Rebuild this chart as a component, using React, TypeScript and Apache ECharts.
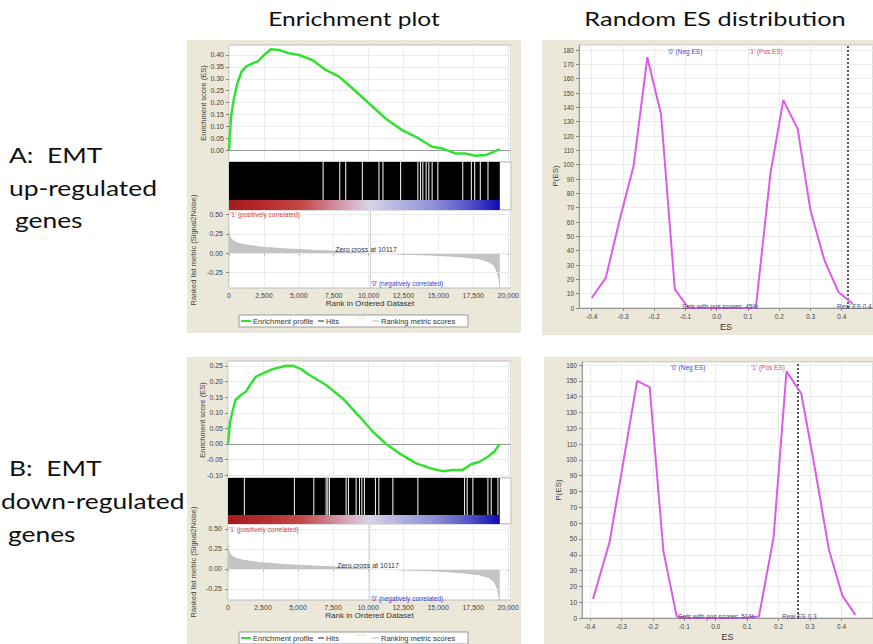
import React, { useEffect, useRef } from 'react';
import * as echarts from 'echarts';

// ---------- data ----------
const RANK_MAX = 20200;
const N_GENES = 19400;
const ZERO_CROSS = 10117;
const RANK_TICK_STEP = 2500;

// Panel A: EMT up-regulated genes — running enrichment score [rank, ES]
const UP_ES: [number, number][] = [
  [0, 0], [143, 0.14], [357, 0.218], [600, 0.28], [900, 0.33], [1214, 0.351], [1690, 0.365],
  [2048, 0.372], [2524, 0.4], [3000, 0.424], [3595, 0.421], [4310, 0.407], [5024, 0.4],
  [5976, 0.379], [6929, 0.337], [7881, 0.309], [8833, 0.26], [10024, 0.197], [11214, 0.133],
  [12405, 0.084], [13595, 0.049], [14548, 0.014], [15262, 0.007], [16214, -0.014],
  [16929, -0.014], [17643, -0.024], [18357, -0.021], [18833, -0.011], [19400, 0.004],
];
// ranks in the hits band where no hit is present (white gaps)
const UP_GAPS = [6738, 7929, 8357, 9548, 10738, 11024, 12286, 13524, 13714, 13881, 14119,
  14310, 14548, 14952, 16738, 17357, 17595, 18000, 18548];
const UP_ES_TICKS = [0, 0.05, 0.1, 0.15, 0.2, 0.25, 0.3, 0.35, 0.4];

// Panel B: EMT down-regulated genes
const DOWN_ES: [number, number][] = [
  [0, 0], [150, 0.072], [524, 0.141], [929, 0.157], [1286, 0.168], [1643, 0.194], [2000, 0.216],
  [2476, 0.226], [3190, 0.24], [4143, 0.251], [4619, 0.251], [5214, 0.24], [5810, 0.221],
  [7000, 0.189], [8190, 0.146], [9381, 0.088], [10333, 0.04], [11286, 0], [12238, -0.03],
  [13429, -0.062], [14619, -0.08], [15333, -0.087], [16048, -0.083], [16762, -0.083],
  [17357, -0.065], [17952, -0.057], [18548, -0.041], [19000, -0.025], [19400, 0],
];
const DOWN_GAPS = [1167, 4738, 6119, 7000, 7119, 7238, 8429, 8595, 9143, 9381, 9548, 9738,
  10524, 10762, 11762, 13548, 16881, 17071, 17476, 18548, 18786, 19262];
const DOWN_ES_TICKS = [-0.1, -0.05, 0, 0.05, 0.1, 0.15, 0.2, 0.25];

// Ranked list metric (Signal2Noise), same ordered dataset for both panels
const METRIC: [number, number][] = [
  [0, 0.29], [100, 0.2], [300, 0.16], [600, 0.13], [1200, 0.105], [2400, 0.077], [4000, 0.056],
  [6400, 0.034], [8800, 0.018], [10117, 0], [12400, -0.013], [14800, -0.028], [16700, -0.05],
  [17900, -0.072], [18600, -0.11], [19000, -0.16], [19200, -0.24], [19350, -0.35], [19400, -0.44],
];
const METRIC_TICKS = [-0.25, 0, 0.25, 0.5];

// Random ES distributions [ES, P(ES)]
const UP_DIST: [number, number][] = [
  [-0.4, 7], [-0.355, 21], [-0.31, 62], [-0.266, 99], [-0.222, 175], [-0.178, 135], [-0.134, 13],
  [-0.09, 0], [-0.045, 0], [0, 0], [0.045, 0], [0.09, 0], [0.125, 0], [0.172, 94], [0.213, 145],
  [0.259, 125], [0.3, 68], [0.345, 33], [0.39, 11], [0.435, 3],
];
const UP_REAL_ES = 0.422;
const DOWN_DIST: [number, number][] = [
  [-0.39, 12], [-0.3375, 48], [-0.295, 97], [-0.25, 150], [-0.21, 146], [-0.166, 42], [-0.124, 1],
  [-0.08, 0], [-0.04, 0], [0, 0], [0.04, 0], [0.08, 0], [0.1375, 1], [0.184, 51], [0.225, 156],
  [0.272, 142], [0.315, 95], [0.36, 43], [0.403, 14], [0.444, 2],
];
const DOWN_REAL_ES = 0.256;
const DIST_X_TICKS = [-0.4, -0.3, -0.2, -0.1, 0, 0.1, 0.2, 0.3, 0.4];

// ---------- styles ----------
const SMALL = "'Liberation Sans', Arial, sans-serif";
const BIG = 'Lato, sans-serif';
const GREEN = '#33e133';
const MAGENTA = '#dc5ce8';
const GRIDLINE = '#ebebeb';
const HEAT_STOPS = [
  { offset: 0, color: '#a41a1a' }, { offset: 0.12, color: '#b52a2a' }, { offset: 0.27, color: '#c54848' },
  { offset: 0.38, color: '#cf8595' }, { offset: 0.46, color: '#d8b2c8' }, { offset: 0.52, color: '#d8d4e8' },
  { offset: 0.62, color: '#b6b6e0' }, { offset: 0.76, color: '#8e8ed6' }, { offset: 0.89, color: '#5252c8' },
  { offset: 0.97, color: '#2020b8' }, { offset: 1, color: '#0808b0' },
];

type PanelLayout = {
  left: number; width: number;
  esTop: number; esH: number; bandH: number; heatFrac: number; metTop: number; metH: number;
  esMin: number; esMax: number; esTicks: number[]; metMin: number; metMax: number;
};

const A_LAYOUT: PanelLayout = {
  left: 229, width: 282, esTop: 45, esH: 117, bandH: 48, heatFrac: 10 / 48, metTop: 210, metH: 78,
  esMin: -0.05, esMax: 0.442, esTicks: UP_ES_TICKS, metMin: -0.45, metMax: 0.557,
};
const B_LAYOUT: PanelLayout = {
  left: 228, width: 283, esTop: 361, esH: 117, bandH: 46, heatFrac: 9 / 46, metTop: 524, metH: 76,
  esMin: -0.109, esMax: 0.266, esTicks: DOWN_ES_TICKS, metMin: -0.39, metMax: 0.5625,
};

const tickLabel = { fontSize: 7, color: '#444', fontFamily: SMALL };
const gridLineItem = (key: 'xAxis' | 'yAxis', v: number) => ({
  [key]: v, lineStyle: { color: GRIDLINE, type: 'solid', width: 1 },
});

function gseaPanel(L: PanelLayout, es: [number, number][], gaps: number[], base: number) {
  const grids = [
    { left: L.left, top: L.esTop, width: L.width, height: L.esH, show: true, backgroundColor: '#fff', borderColor: '#bbb', borderWidth: 1 },
    { left: L.left, top: L.esTop + L.esH, width: L.width, height: L.bandH, show: true, backgroundColor: '#fff', borderColor: '#bbb', borderWidth: 1 },
    { left: L.left, top: L.metTop, width: L.width, height: L.metH, show: true, backgroundColor: '#fff', borderColor: '#bbb', borderWidth: 1 },
  ];
  const rankAxisHidden = (g: number) => ({
    gridIndex: g, type: 'value', min: 0, max: RANK_MAX, interval: RANK_TICK_STEP,
    axisLabel: { show: false }, axisTick: { show: false }, axisLine: { show: false },
    splitLine: { show: true, lineStyle: { color: GRIDLINE, width: 1 } },
  });
  const xAxes = [
    rankAxisHidden(base),
    { ...rankAxisHidden(base + 1), splitLine: { show: false } },
    {
      gridIndex: base + 2, type: 'value', min: 0, max: RANK_MAX, interval: RANK_TICK_STEP,
      axisLine: { show: false }, axisTick: { show: true, length: 2, lineStyle: { color: '#888' } },
      axisLabel: { ...tickLabel, margin: 4, showMaxLabel: false, formatter: (v: number) => v.toLocaleString('en-US') },
      splitLine: { show: true, lineStyle: { color: GRIDLINE } },
      name: 'Rank in Ordered Dataset', nameLocation: 'middle', nameGap: 11,
      nameTextStyle: { fontSize: 8, color: '#333', fontFamily: SMALL },
    },
  ];
  const yAxes = [
    {
      gridIndex: base, type: 'value', min: L.esMin, max: L.esMax,
      axisLine: { show: false, onZero: false },
      axisTick: { show: true, length: 3, customValues: L.esTicks, lineStyle: { color: '#888' } },
      axisLabel: { ...tickLabel, margin: 5, customValues: L.esTicks, formatter: (v: number) => v.toFixed(2) },
      splitLine: { show: false },
    },
    { gridIndex: base + 1, type: 'value', min: 0, max: 1, show: false },
    {
      gridIndex: base + 2, type: 'value', min: L.metMin, max: L.metMax,
      axisLine: { show: false, onZero: false },
      axisTick: { show: true, length: 3, customValues: METRIC_TICKS, lineStyle: { color: '#888' } },
      axisLabel: { ...tickLabel, margin: 6, customValues: METRIC_TICKS, formatter: (v: number) => v.toFixed(2) },
      splitLine: { show: false },
    },
  ];
  const hf = L.heatFrac;
  const series = [
    {
      type: 'line', xAxisIndex: base, yAxisIndex: base, data: es, showSymbol: false, symbol: 'none',
      lineStyle: { color: GREEN, width: 2.5 }, z: 5,
      markLine: {
        silent: true, symbol: 'none', label: { show: false }, z: 1,
        data: [
          ...L.esTicks.filter((v) => v !== 0).map((v) => gridLineItem('yAxis', v)),
          { yAxis: 0, lineStyle: { color: '#9a9a9a', type: 'solid', width: 1 } },
        ],
      },
    },
    {
      type: 'custom', xAxisIndex: base + 1, yAxisIndex: base + 1, data: [[0, N_GENES]],
      renderItem: (_p: any, api: any) => {
        const a = api.coord([api.value(0), 1]);
        const b = api.coord([api.value(1), hf]);
        return { type: 'rect', shape: { x: a[0], y: a[1], width: b[0] - a[0], height: b[1] - a[1] }, style: { fill: '#000' } };
      },
    },
    {
      type: 'custom', xAxisIndex: base + 1, yAxisIndex: base + 1, data: [[0, N_GENES]],
      renderItem: (_p: any, api: any) => {
        const a = api.coord([api.value(0), hf]);
        const b = api.coord([api.value(1), 0]);
        return {
          type: 'rect', shape: { x: a[0], y: a[1], width: b[0] - a[0], height: b[1] - a[1] },
          style: { fill: { type: 'linear', x: 0, y: 0, x2: 1, y2: 0, colorStops: HEAT_STOPS } },
        };
      },
    },
    {
      type: 'custom', xAxisIndex: base + 1, yAxisIndex: base + 1, data: gaps.map((g) => [g, 1]),
      renderItem: (_p: any, api: any) => {
        const a = api.coord([api.value(0), 1]);
        const b = api.coord([api.value(0), hf]);
        return { type: 'rect', shape: { x: a[0] - 0.5, y: a[1], width: 1.1, height: b[1] - a[1] }, style: { fill: '#e6e6e6' } };
      },
    },
    {
      type: 'line', xAxisIndex: base + 2, yAxisIndex: base + 2, data: METRIC, showSymbol: false, symbol: 'none',
      lineStyle: { color: '#b0b0b0', width: 0.6 }, areaStyle: { color: '#c4c4c4', opacity: 1 }, z: 3,
      markLine: {
        silent: true, symbol: 'none', label: { show: false },
        data: [
          ...METRIC_TICKS.map((v) => gridLineItem('yAxis', v)),
          { xAxis: ZERO_CROSS, lineStyle: { color: '#b8b8b8', type: 'dotted', width: 1 } },
        ],
      },
    },
  ];
  return { grids, xAxes, yAxes, series };
}

function distPanel(g: number, left: number, top: number, bottom: number, xMin: number, xMax: number, yMax: number,
  data: [number, number][], realEs: number) {
  const width = 880 - left;
  const grid = { left, top, width, height: bottom - top, show: true, backgroundColor: '#fff', borderColor: '#bbb', borderWidth: 1 };
  const xAxis = {
    gridIndex: g, type: 'value', min: xMin, max: xMax,
    axisLine: { show: true, onZero: false, lineStyle: { color: '#999' } },
    axisTick: { show: true, length: 3, customValues: DIST_X_TICKS, lineStyle: { color: '#888' } },
    axisLabel: { fontSize: 6.5, color: '#444', fontFamily: SMALL, margin: 5, customValues: DIST_X_TICKS, formatter: (v: number) => v.toFixed(1) },
    splitLine: { show: false },
    name: 'ES', nameLocation: 'middle', nameGap: 14, nameTextStyle: { fontSize: 9, color: '#333', fontFamily: SMALL },
  };
  const yAxis = {
    gridIndex: g, type: 'value', min: 0, max: yMax, interval: 10,
    axisLine: { show: true, onZero: false, lineStyle: { color: '#999' } },
    axisTick: { show: true, length: 3, lineStyle: { color: '#888' } },
    axisLabel: { fontSize: 6.5, color: '#444', fontFamily: SMALL, margin: 5, showMaxLabel: false },
    splitLine: { show: true, lineStyle: { color: GRIDLINE } },
  };
  const series = {
    type: 'line', xAxisIndex: g, yAxisIndex: g, data, showSymbol: false, symbol: 'none',
    lineStyle: { color: MAGENTA, width: 2 }, z: 5,
    markLine: {
      silent: true, symbol: 'none', label: { show: false }, z: 1,
      data: [
        ...DIST_X_TICKS.map((v) => gridLineItem('xAxis', v)),
        { xAxis: realEs, lineStyle: { color: '#222', type: [2, 2], width: 1.5 } },
      ],
    },
  };
  return { grid, xAxis, yAxis, series };
}

function txt(text: string, x: number, y: number, o: any = {}) {
  const align = o.align || 'left';
  return {
    type: 'text', x, y, z: 100, silent: true, rotation: o.rotation || 0, scaleX: o.scaleX || 1,
    style: {
      text, fontSize: o.size || 7, fontFamily: o.font || SMALL, fill: o.color || '#333',
      align, textAlign: align, verticalAlign: 'middle', textVerticalAlign: 'middle',
    },
  };
}

function legendBox(y0: number) {
  const cy = y0 + 6;
  return [
    { type: 'rect', z: 100, silent: true, shape: { x: 239, y: y0, width: 229, height: 12 }, style: { fill: '#fff', stroke: '#999', lineWidth: 1 } },
    { type: 'line', z: 101, silent: true, shape: { x1: 241, y1: cy, x2: 251, y2: cy }, style: { stroke: GREEN, lineWidth: 2 } },
    txt('Enrichment profile', 253, cy, { size: 7.5 }),
    { type: 'line', z: 101, silent: true, shape: { x1: 318, y1: cy, x2: 324, y2: cy }, style: { stroke: '#222', lineWidth: 1 } },
    txt('Hits', 326, cy, { size: 7.5 }),
    { type: 'line', z: 101, silent: true, shape: { x1: 356, y1: cy - 3, x2: 366, y2: cy - 3 }, style: { stroke: '#dddddd', lineWidth: 1 } },
    { type: 'line', z: 101, silent: true, shape: { x1: 372, y1: cy, x2: 379, y2: cy }, style: { stroke: '#bbbbbb', lineWidth: 1 } },
    txt('Ranking metric scores', 381, cy, { size: 7.5 }),
  ];
}

const R90 = Math.PI / 2;

export default function App() {
  const ref = useRef<HTMLDivElement>(null);
  useEffect(() => {
    if (!ref.current) return;
    const chart = echarts.init(ref.current, undefined, { renderer: 'svg' });
    const A = gseaPanel(A_LAYOUT, UP_ES, UP_GAPS, 0);
    const Ad = distPanel(3, 579, 45, 308, -0.4406, 0.5, 183.5, UP_DIST, UP_REAL_ES);
    const B = gseaPanel(B_LAYOUT, DOWN_ES, DOWN_GAPS, 4);
    const Bd = distPanel(7, 582, 362, 618, -0.425, 0.5, 161.9, DOWN_DIST, DOWN_REAL_ES);

    const graphics: any[] = [
      txt('Enrichment plot', 354, 19, { size: 19.5, font: BIG, color: '#111', align: 'center', scaleX: 1.26 }),
      txt('Random ES distribution', 715, 19, { size: 19.5, font: BIG, color: '#111', align: 'center', scaleX: 1.3 }),
      txt('A:  EMT', 9, 154, { size: 22, font: BIG, color: '#111', scaleX: 1.2 }),
      txt('up-regulated', 9, 187, { size: 22, font: BIG, color: '#111', scaleX: 1.2 }),
      txt('genes', 15, 219, { size: 22, font: BIG, color: '#111', scaleX: 1.2 }),
      txt('B:  EMT', 9, 467, { size: 22, font: BIG, color: '#111', scaleX: 1.2 }),
      txt('down-regulated', 1, 500, { size: 22, font: BIG, color: '#111', scaleX: 1.2 }),
      txt('genes', 8, 533, { size: 22, font: BIG, color: '#111', scaleX: 1.2 }),
      // GSEA A annotations
      txt('Enrichment score (ES)', 203, 103, { size: 7.5, rotation: R90, align: 'center', color: '#444' }),
      txt('Ranked list metric (Signal2Noise)', 193, 250, { size: 7.5, rotation: R90, align: 'center', color: '#444' }),
      txt("'1' (positively correlated)", 230, 214, { size: 6.5, color: '#d04545' }),
      txt('Zero cross at 10117', 366, 249, { size: 7, align: 'center', color: '#333' }),
      txt("'0' (negatively correlated)", 371, 283, { size: 6.5, color: '#3c3cc8' }),
      ...legendBox(315),
      // GSEA B annotations
      txt('Enrichment score (ES)', 202, 420, { size: 7.5, rotation: R90, align: 'center', color: '#444' }),
      txt('Ranked list metric (Signal2Noise)', 193, 562, { size: 7.5, rotation: R90, align: 'center', color: '#444' }),
      txt("'1' (positively correlated)", 229, 529, { size: 6.5, color: '#d04545' }),
      txt('Zero cross at 10117', 368, 565, { size: 7, align: 'center', color: '#333' }),
      txt("'0' (negatively correlated)", 371, 598, { size: 6.5, color: '#3c3cc8' }),
      ...legendBox(632),
      // Distribution A
      txt('P(ES)', 555, 176, { size: 8, rotation: R90, align: 'center', color: '#444' }),
      txt("'0' (Neg ES)", 685, 51, { size: 6.5, align: 'center', color: '#4848d0' }),
      txt("'1' (Pos ES)", 766, 51, { size: 6.5, align: 'center', color: '#e05050' }),
      txt('Sets with pos scores: 45%', 682, 306, { size: 6.5, color: '#4a4a70' }),
      txt('Real ES 0.4', 837, 306, { size: 6.5, color: '#4a4a70' }),
      // Distribution B
      txt('P(ES)', 558, 490, { size: 8, rotation: R90, align: 'center', color: '#444' }),
      txt("'0' (Neg ES)", 688, 367, { size: 6.5, align: 'center', color: '#4848d0' }),
      txt("'1' (Pos ES)", 768, 367, { size: 6.5, align: 'center', color: '#e05050' }),
      txt('Sets with pos scores: 51%', 678, 616, { size: 6.5, color: '#4a4a70' }),
      txt('Real ES 0.3', 782, 616, { size: 6.5, color: '#4a4a70' }),
    ];

    chart.setOption({
      animation: false,
      backgroundColor: 'transparent',
      grid: [...A.grids, Ad.grid, ...B.grids, Bd.grid],
      xAxis: [...A.xAxes, Ad.xAxis, ...B.xAxes, Bd.xAxis],
      yAxis: [...A.yAxes, Ad.yAxis, ...B.yAxes, Bd.yAxis],
      series: [...A.series, Ad.series, ...B.series, Bd.series],
      graphic: { elements: graphics },
    });
    return () => chart.dispose();
  }, []);

  const panel = (l: number, t: number, w: number, h: number) => ({
    position: 'absolute' as const, left: l, top: t, width: w, height: h, background: '#ebe8da',
  });

  return (
    <div style={{ position: 'absolute', left: 0, top: 0, width: 873, height: 644, overflow: 'hidden', background: '#fff' }}>
      <div style={panel(187, 40, 334, 293)} />
      <div style={panel(542, 40, 331, 295)} />
      <div style={panel(187, 357, 334, 287)} />
      <div style={panel(544, 357, 329, 287)} />
      <div ref={ref} style={{ position: 'absolute', left: 0, top: 0, width: 873, height: 644 }} />
    </div>
  );
}
